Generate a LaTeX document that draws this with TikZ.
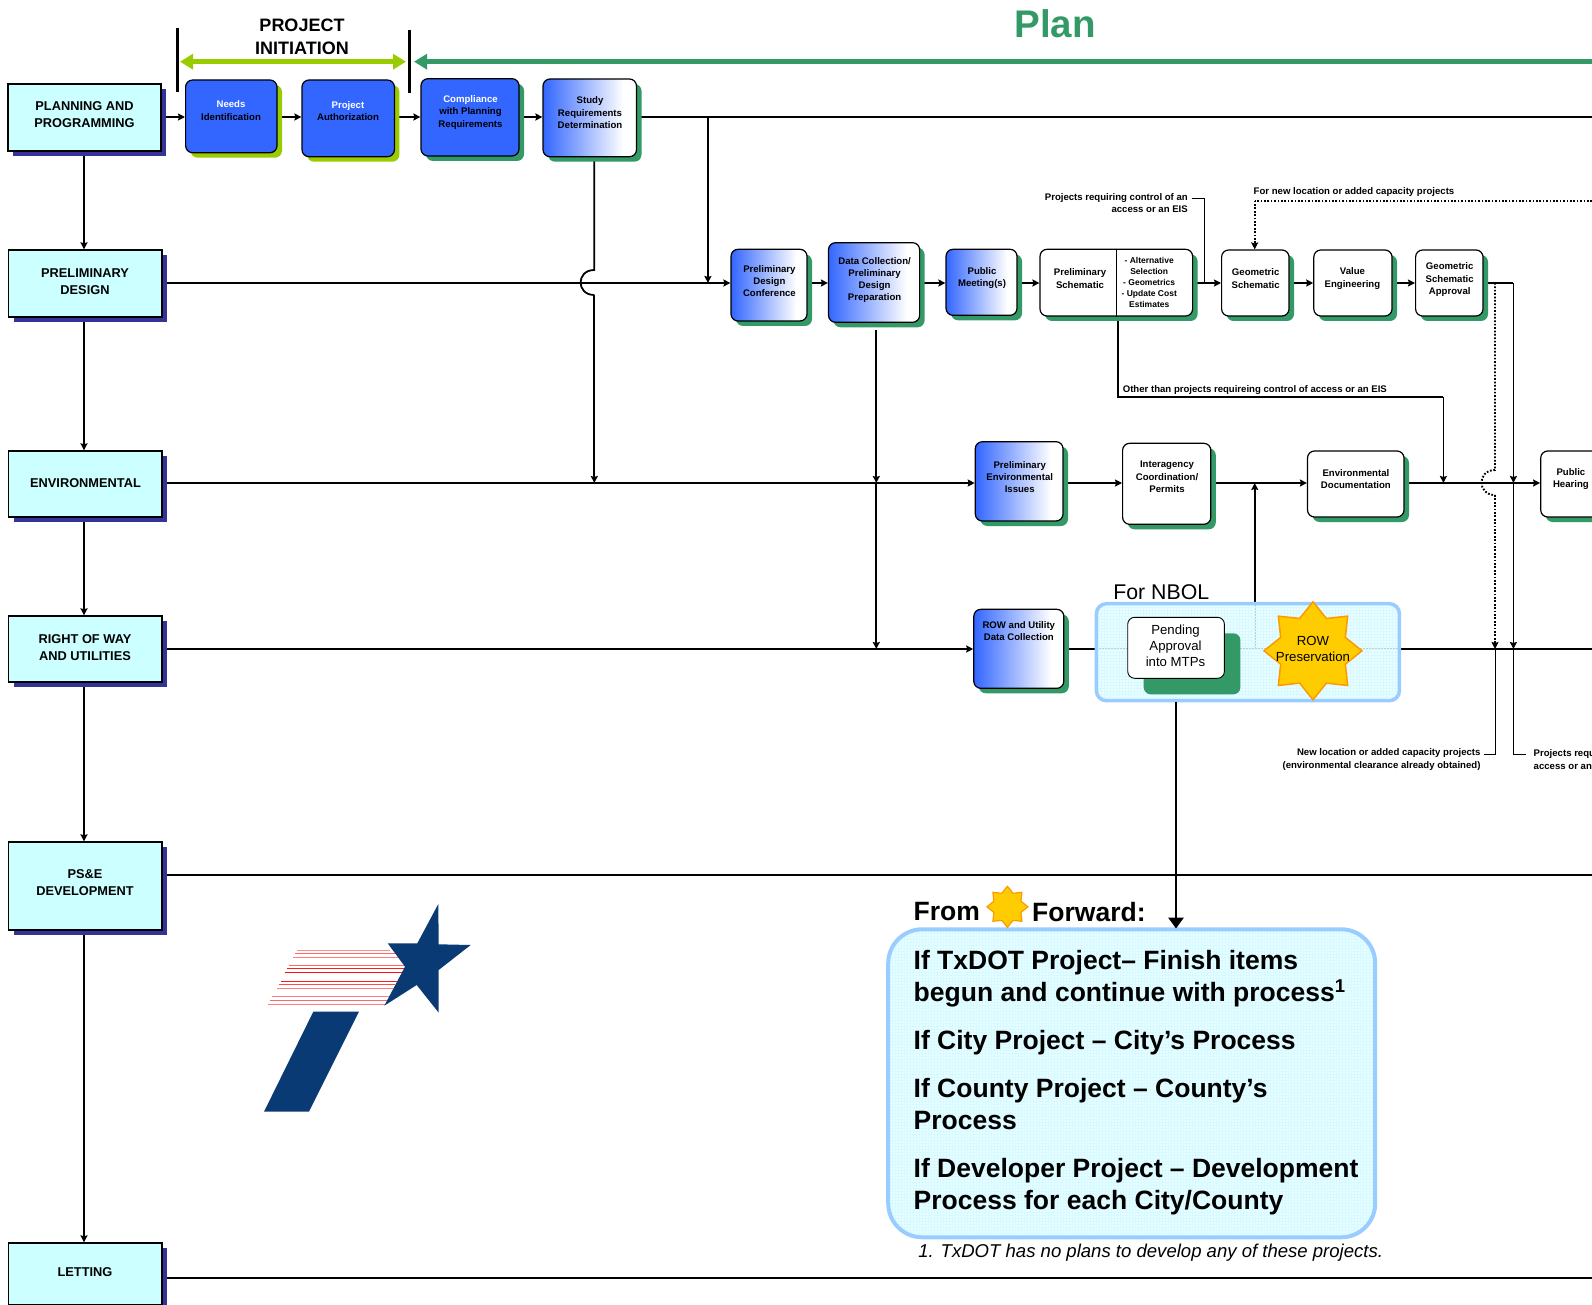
\documentclass[tikz,border=0pt]{standalone}
\usepackage{fontspec}
\setmainfont{Liberation Sans}
\usetikzlibrary{arrows.meta,shapes.geometric,shadows}
\definecolor{laneC}{HTML}{CCFFFF}
\definecolor{indigoC}{HTML}{333399}
\definecolor{blueC}{HTML}{3366FF}
\definecolor{limeC}{HTML}{99CC00}
\definecolor{seaC}{HTML}{339966}
\definecolor{skyC}{HTML}{99CCFF}
\definecolor{paleC}{HTML}{E4FFFF}
\definecolor{gridC}{HTML}{D9F8FF}
\definecolor{sunC}{HTML}{FFCC00}
\definecolor{sunEdge}{HTML}{FF9900}
\definecolor{navyC}{HTML}{0A3A73}
\pgfdeclarelayer{bg}
\pgfsetlayers{bg,main}
\pgfdeclarehorizontalshading{blwh}{100bp}{color(0bp)=(blueC); color(25bp)=(blueC); color(68bp)=(white); color(100bp)=(white)}
\newcommand\wtx{\color{white}}
\tikzset{
  lane/.style={draw=black,line width=1.3pt,fill=laneC,rectangle,inner sep=0pt,
     general shadow={fill=indigoC,shadow xshift=5pt,shadow yshift=-5pt}},
  procbase/.style={draw=black,line width=1.2pt,rectangle,rounded corners=7pt,inner sep=0pt},
  blueLime/.style={procbase,fill=blueC,
     general shadow={fill=limeC,shadow xshift=5pt,shadow yshift=-5pt}},
  blueSea/.style={procbase,fill=blueC,
     general shadow={fill=seaC,shadow xshift=5pt,shadow yshift=-5pt}},
  gradSea/.style={procbase,shading=blwh,
     general shadow={fill=seaC,shadow xshift=5pt,shadow yshift=-5pt}},
  whiteSea/.style={procbase,fill=white,
     general shadow={fill=seaC,shadow xshift=5pt,shadow yshift=-5pt}},
  whiteBig/.style={procbase,fill=white,line width=.9pt,
     general shadow={fill=seaC,shadow xshift=16pt,shadow yshift=-16pt}},
  boxtext/.style={font=\bfseries\fontsize{9.6}{12.3}\selectfont,align=center,inner sep=0pt},
  lanetext/.style={font=\bfseries\fontsize{12.8}{17}\selectfont,align=center,inner sep=0pt},
  subtext/.style={font=\bfseries\fontsize{8.5}{10.8}\selectfont,align=center,inner sep=0pt},
  plaintext/.style={font=\fontsize{13.2}{15.8}\selectfont,align=center,inner sep=0pt},
  bxlab/.style={boxtext},
  annot/.style={font=\bfseries\fontsize{9.6}{12.6}\selectfont,inner sep=0pt},
  conn/.style={line width=1.8pt,draw=black},
  arr/.style={conn,-{Stealth[length=7pt,width=7pt,inset=1pt]}},
  dots/.style={line width=1.9pt,dash pattern=on 1.7pt off 1.7pt},
  dotarr/.style={dots,-{Stealth[length=7pt,width=7pt,inset=1pt]}},
  thinl/.style={line width=.9pt,draw=black},
  bar/.style={line width=2.8pt,draw=black},
  sun/.style={star,star points=8,star point ratio=1.4,fill=sunC,draw=sunEdge,line width=1.5pt,inner sep=0pt},
  pale/.style={draw=skyC,line width=3.5pt,fill=paleC,rectangle,inner sep=0pt,
     path picture={\draw[gridC,line width=.25pt,step=3pt] (path picture bounding box.south west) grid (path picture bounding box.north east);}},
}
\newcommand\bx[9]{\node[#2,minimum width={(#5-#3)*1pt},minimum height={(#6-#4)*1pt},
  label={[bxlab,xshift={(#7-(#3+#5)/2)*1pt},yshift={((#4+#6)/2-#8)*1pt}]center:{#9}}] (#1) at ({(#3+#5)/2},{(#4+#6)/2}) {};}
\begin{document}
\begin{tikzpicture}[x=1pt,y=-1pt]
\clip (0,0) rectangle (1592,1305);
\path[use as bounding box] (0,0) rectangle (1592,1305);
% row levels and guide coordinates
\coordinate (r1) at (0,117);
\coordinate (r2) at (0,283);
\coordinate (r3) at (0,483);
\coordinate (r4) at (0,649);
\coordinate (r5) at (0,875);
\coordinate (r6) at (0,1278.3);
\coordinate (edgeR) at (1592,0);
\coordinate (vStudy) at (594.3,0);
\coordinate (vTop) at (707.9,0);
\coordinate (vData) at (876.3,0);
\coordinate (vSchem) at (1118,0);
\coordinate (vUpB) at (1204,0);
\coordinate (vGeo) at (1254.7,0);
\coordinate (vDoc) at (1443.4,0);
\coordinate (vDot) at (1495,0);
\coordinate (vSol) at (1513.4,0);
% titles
\node[font=\bfseries\fontsize{18}{23.2}\selectfont,align=center,inner sep=0pt] (initTitle) at (302,37) {PROJECT\\INITIATION};
\node[font=\bfseries\fontsize{38.5}{40}\selectfont,text=seaC,inner sep=0pt] (planTitle) at (1055,24) {Plan};
% lanes
\tikzset{bxlab/.style={lanetext}}
\bx{lPlan}{lane}{8}{84}{161}{151}{84.5}{115}{PLANNING AND\\PROGRAMMING}
\bx{lPrel}{lane}{8.5}{250}{162}{317}{85}{281.5}{PRELIMINARY\\DESIGN}
\bx{lEnv}{lane}{8.5}{451}{162}{517}{85.5}{483.5}{ENVIRONMENTAL}
\bx{lRow}{lane}{8.5}{616}{162}{682}{85}{647.5}{RIGHT OF WAY\\AND UTILITIES}
\bx{lPse}{lane}{8.5}{842}{162}{930}{85}{882.3}{PS\&E\\DEVELOPMENT}
\bx{lLet}{lane}{8.5}{1243}{162}{1304.5}{85}{1272}{LETTING}
\tikzset{bxlab/.style={boxtext}}
% first row
\bx{needs}{blueLime}{185.6}{80}{277}{152.7}{231}{110.7}{\wtx Needs\\Identification}
\bx{auth}{blueLime}{302}{80}{394.4}{156.7}{348}{111}{\wtx Project\\Authorization}
\bx{compl}{blueSea}{421}{78.7}{519}{156}{470.5}{112.5}{\wtx Compliance\\with Planning\\Requirements}
\bx{study}{gradSea}{543}{79}{636.5}{156.7}{590}{112.7}{Study\\Requirements\\Determination}
% second row
\bx{pdc}{gradSea}{731}{249.3}{807}{321}{769.4}{281}{Preliminary\\Design\\Conference}
\bx{data}{gradSea}{828.5}{242.7}{919.6}{322.3}{874.6}{280}{Data Collection/\\Preliminary\\Design\\Preparation}
\bx{meet}{gradSea}{946}{249.3}{1017}{315.3}{982}{278}{Public\\Meeting(s)}
\bx{schem}{whiteSea}{1040}{249.3}{1192.6}{316}{1080}{278.5}{Preliminary\\Schematic}
\node[subtext] (schemList) at (1149.2,282.4) {- Alternative\\Selection\\- Geometrics\\- Update Cost\\Estimates};
\bx{geo}{whiteSea}{1221.6}{250}{1289}{316}{1255.7}{278.5}{Geometric\\Schematic}
\bx{value}{whiteSea}{1313.8}{250}{1392}{316}{1352.4}{278.5}{Value\\Engineering}
\bx{appr}{whiteSea}{1415.6}{250}{1483}{316}{1449.7}{279.8}{Geometric\\Schematic\\Approval}
% third row
\bx{pei}{gradSea}{975.3}{441.7}{1063}{521}{1019.7}{477}{Preliminary\\Environmental\\Issues}
\bx{inter}{whiteSea}{1122.6}{443.3}{1210.8}{524.3}{1167}{477}{Interagency\\Coordination/\\Permits}
\bx{doc}{whiteSea}{1307.5}{451}{1404}{517}{1355.9}{478.8}{Environmental\\Documentation}
\bx{hear}{whiteSea}{1540.7}{451}{1640}{517}{1570.9}{479.3}{Public\\Hearing}
% fourth row
\bx{rowd}{gradSea}{973.8}{609.3}{1063.8}{688.3}{1018.8}{631}{ROW and Utility\\Data Collection}
\node[pale,rounded corners=10pt,fill opacity=.82,minimum width=303pt,minimum height=97pt] (nbol) at (1247.9,652.2) {};
\node[font=\fontsize{21.3}{24}\selectfont,inner sep=0pt] (nbolT) at (1161.3,591.7) {For NBOL};
\tikzset{bxlab/.style={plaintext}}
\bx{pend}{whiteBig}{1127.7}{617.3}{1224.4}{678.3}{1175.5}{645.5}{Pending\\Approval\\into MTPs}
\tikzset{bxlab/.style={boxtext}}
\node[sun,minimum size=98pt] (pres) at (1313,650.8) {};
\node[plaintext] (presT) at (1313,649.2) {ROW\\Preservation};
% from-forward box
\node[pale,draw=skyC,line width=4pt,rounded corners=34pt,minimum width=487pt,minimum height=308pt] (fwd) at (1131.7,1083.3) {};
\node[font=\bfseries\fontsize{26.5}{32}\selectfont,inner sep=0pt,anchor=west] (fromT) at (913.5,911.7) {From};
\node[sun,minimum size=41pt,line width=1.2pt] (miniSun) at (1007.4,906.8) {};
\node[font=\bfseries\fontsize{26.5}{32}\selectfont,inner sep=0pt,anchor=west] (fwdT) at (1032,911.7) {Forward:};
\node[font=\bfseries\fontsize{26.5}{32}\selectfont,align=left,inner sep=0pt,anchor=west] (fwdList) at (913.5,1083)
 {If TxDOT Project– Finish items\\begun and continue with process\textsuperscript{1}\\[16pt]If City Project – City’s Process\\[16pt]If County Project – County’s\\Process\\[16pt]If Developer Project – Development\\Process for each City/County};
\node[font=\itshape\fontsize{18.55}{22}\selectfont,inner sep=0pt,anchor=west] (foot) at (918.2,1252.7) {1. TxDOT has no plans to develop any of these projects.};
% annotations
\node[annot,align=right,anchor=east] (aCtl) at (1188,203.2) {Projects requiring control of an\\access or an EIS};
\node[annot,anchor=west] (aNew) at (1253.5,191.9) {For new location or added capacity projects};
\node[annot,anchor=west] (aOther) at (1122.6,389.9) {Other than projects requireing control of access or an EIS};
\node[annot,align=right,anchor=east] (aClear) at (1480.7,759.7) {New location or added capacity projects\\(environmental clearance already obtained)};
\node[annot,align=left,anchor=west] (aCut) at (1533.5,759.7) {Projects requ\\access or an};
% logo
\fill[navyC] (438.3,904) -- (438.7,944.3) -- (470.7,945) -- (438.7,970) -- (438.7,1012.7) -- (416.7,985) -- (384.3,1005.7) -- (405,966.7) -- (387.7,943.3) -- (417.3,943.3) -- cycle;
\fill[navyC] (313.3,1011.7) -- (359,1011.7) -- (309,1111.7) -- (264,1111.7) -- cycle;
% divider of the schematic box
\draw[thinl] (schem.north -| 1116.4,0) -- (schem.south -| 1116.4,0);
\begin{pgfonlayer}{bg}
\foreach \yy/\xa/\xb/\op in {180/142/420/.45,190/136/435/.6,201/130/445/.5,226/117/465/.6,236/110/465/.9,246/104/460/.95,274/92/440/.9,284/86/435/.7,295/80/430/.5,320/65/420/.5,331/60/415/.6,343/55/405/.5}
  \draw[red,line width=1pt,draw opacity=\op] ({250+\xa/3},{890+\yy/3}) -- ({250+\xb/3},{890+\yy/3});
% lane spine
\draw[arr] (lPlan.south -| 84,0) -- (lPrel.north -| 84,0);
\draw[arr] (lPrel.south -| 84,0) -- (lEnv.north -| 84,0);
\draw[arr] (lEnv.south -| 84,0) -- (lRow.north -| 84,0);
\draw[arr] (lRow.south -| 84,0) -- (lPse.north -| 84,0);
\draw[arr] (lPse.south -| 84,0) -- (lLet.north -| 84,0);
% row 1
\draw[arr] (lPlan.east |- r1) -- (needs.west |- r1);
\draw[arr] (needs.east |- r1) -- (auth.west |- r1);
\draw[arr] (auth.east |- r1) -- (compl.west |- r1);
\draw[arr] (compl.east |- r1) -- (study.west |- r1);
\draw[conn] (study.east |- r1) -- (edgeR |- r1);
\draw[arr] (vTop |- r1) -- (vTop |- r2);
% study drop with hop
\draw[conn] (vStudy |- study.south) -- (594.3,270) .. controls (576,270) and (576,295) .. (594.3,295);
\draw[arr] (594.3,295) -- (vStudy |- r3);
% row 2
\draw[arr] (lPrel.east |- r2) -- (pdc.west |- r2);
\draw[arr] (pdc.east |- r2) -- (data.west |- r2);
\draw[arr] (data.east |- r2) -- (meet.west |- r2);
\draw[arr] (meet.east |- r2) -- (schem.west |- r2);
\draw[arr] (schem.east |- r2) -- (geo.west |- r2);
\draw[arr] (geo.east |- r2) -- (value.west |- r2);
\draw[arr] (value.east |- r2) -- (appr.west |- r2);
\draw[conn] (appr.east |- r2) -- (vSol |- r2);
% data drop
\draw[arr] (876.3,330) -- (vData |- r3);
\draw[arr] (vData |- r3) -- (vData |- r4);
% row 3
\draw[arr] (lEnv.east |- r3) -- (pei.west |- r3);
\draw[arr] (pei.east |- r3) -- (inter.west |- r3);
\draw[arr] (inter.east |- r3) -- (doc.west |- r3);
\draw[arr] (doc.east |- r3) -- (hear.west |- r3);
% row 4
\draw[arr] (lRow.east |- r4) -- (rowd.west |- r4);
\draw[conn] (rowd.east |- r4) -- (edgeR |- r4);
\draw[arr] (vGeo |- r4) -- (vGeo |- r3);
% other lanes
\draw[conn] (lPse.east |- r5) -- (edgeR |- r5);
\draw[conn] (lLet.east |- r6) -- (edgeR |- r6);
% control branches
\draw[thinl] (aCtl.east |- 0,198) ++(3.5,0) -- (1204,198) -- (vUpB |- r2);
\draw[dots] (edgeR |- 0,200.7) -- (1254.7,200.7);
\draw[dotarr] (1254.7,200.7) -- (vGeo |- geo.north);
\draw[conn] (vSchem |- schem.south) -- (1118,396.7) -- (1443.4,396.7);
\draw[arr] (1443.4,396.7) -- (vDoc |- r3);
\draw[dots] (vDot |- r2) -- (1495,470) .. controls (1477,470) and (1477,495) .. (1495,495);
\draw[dotarr] (1495,495) -- (vDot |- r4);
\draw[arr] (vSol |- r2) -- (vSol |- r3);
\draw[arr] (vSol |- r3) -- (vSol |- r4);
\draw[thinl] (vDot |- r4) -- (1495,754) -- (1484,754);
\draw[thinl] (vSol |- r4) -- (1513.4,754) -- (1526,754);
\end{pgfonlayer}
\draw[conn,-{Triangle[length=11pt,width=15.5pt]}] (1176,701.7) -- (1176,928.5);
% spans
\coordinate (barA1) at (177.6,28);
\coordinate (barA2) at (177.6,92);
\coordinate (barB1) at (409.6,30);
\coordinate (barB2) at (409.6,92.6);
\draw[bar] (barA1) -- (barA2);
\draw[bar] (barB1) -- (barB2);
\draw[limeC,line width=4.5pt,{Triangle[length=13pt,width=15pt]}-{Triangle[length=13pt,width=15pt]}] (180,61.7) -- (406,61.7);
\draw[seaC,line width=4.5pt,{Triangle[length=13pt,width=15pt]}-] (414,61.7) -- (edgeR |- 0,61.7);
\end{tikzpicture}
\end{document}
